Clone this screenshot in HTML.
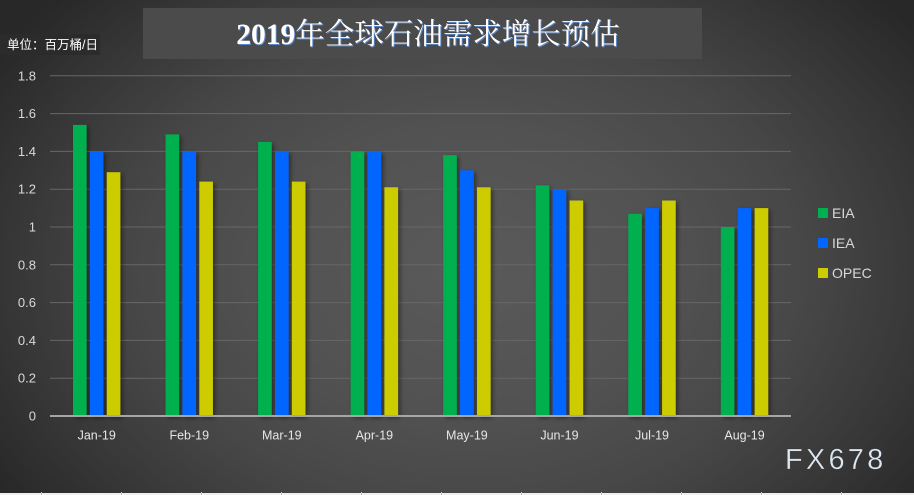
<!DOCTYPE html>
<html>
<head>
<meta charset="utf-8">
<style>
html,body{margin:0;padding:0;}
body{width:914px;height:495px;overflow:hidden;position:relative;
background:radial-gradient(ellipse 560px 400px at 470px 270px,#5a5a5a 0%,#525252 35%,#474747 60%,#383838 80%,#282828 100%);
font-family:"Liberation Sans","Noto Sans CJK SC",sans-serif;}
svg{position:absolute;left:0;top:0;}
</style>
</head>
<body>
<svg width="914" height="495" viewBox="0 0 914 495" xmlns="http://www.w3.org/2000/svg">
<defs>
<filter id="sh" x="-50%" y="-10%" width="200%" height="130%">
<feDropShadow dx="2" dy="2" stdDeviation="2.5" flood-color="#000" flood-opacity="0.45"/>
</filter>
<filter id="ts" x="-5%" y="-10%" width="110%" height="130%">
<feDropShadow dx="1" dy="1" stdDeviation="0" flood-color="#5b8fd8" flood-opacity="0.9"/>
</filter>
</defs>
<!-- title box -->
<rect x="143" y="8" width="559" height="51" fill="#4b4b4b"/>
<text x="428" y="44" text-anchor="middle" font-family="Liberation Serif,'Noto Serif CJK SC',serif" font-size="29.5" fill="#ffffff" filter="url(#ts)"><tspan font-weight="bold">2019</tspan><tspan font-weight="normal">年全球石油需求增长预估</tspan></text>
<!-- unit label -->
<rect x="0" y="34" width="100" height="21" fill="#2b2b2b"/>
<text x="7" y="49" font-family="'Liberation Sans','Noto Sans CJK SC',sans-serif" font-size="12.5" fill="#ffffff">单位：百万桶/日</text>
<!-- gridlines -->
<g stroke="#676767" stroke-width="1">
<line x1="50" x2="791" y1="378.2" y2="378.2"/>
<line x1="50" x2="791" y1="340.4" y2="340.4"/>
<line x1="50" x2="791" y1="302.6" y2="302.6"/>
<line x1="50" x2="791" y1="264.8" y2="264.8"/>
<line x1="50" x2="791" y1="227" y2="227"/>
<line x1="50" x2="791" y1="189.2" y2="189.2"/>
<line x1="50" x2="791" y1="151.4" y2="151.4"/>
<line x1="50" x2="791" y1="113.6" y2="113.6"/>
<line x1="50" x2="791" y1="75.8" y2="75.8"/>
</g>
<!-- y labels -->
<g font-family="'Liberation Sans',sans-serif" font-size="13" fill="#d9d9d9" text-anchor="end">
<text x="36" y="420.5">0</text>
<text x="36" y="382.7">0.2</text>
<text x="36" y="344.9">0.4</text>
<text x="36" y="307.1">0.6</text>
<text x="36" y="269.3">0.8</text>
<text x="36" y="231.5">1</text>
<text x="36" y="193.7">1.2</text>
<text x="36" y="155.9">1.4</text>
<text x="36" y="118.1">1.6</text>
<text x="36" y="80.3">1.8</text>
</g>
<!-- bars -->
<g filter="url(#sh)">
<rect x="73.0" y="124.9" width="13.6" height="291.1" fill="#00b050"/>
<rect x="89.9" y="151.4" width="13.6" height="264.6" fill="#0066ff"/>
<rect x="106.8" y="172.2" width="13.6" height="243.8" fill="#cccc00"/>
<rect x="165.55" y="134.4" width="13.6" height="281.6" fill="#00b050"/>
<rect x="182.45" y="151.4" width="13.6" height="264.6" fill="#0066ff"/>
<rect x="199.35" y="181.6" width="13.6" height="234.4" fill="#cccc00"/>
<rect x="258.1" y="141.9" width="13.6" height="274.1" fill="#00b050"/>
<rect x="275.0" y="151.4" width="13.6" height="264.6" fill="#0066ff"/>
<rect x="291.9" y="181.6" width="13.6" height="234.4" fill="#cccc00"/>
<rect x="350.65" y="151.4" width="13.6" height="264.6" fill="#00b050"/>
<rect x="367.55" y="151.4" width="13.6" height="264.6" fill="#0066ff"/>
<rect x="384.45" y="187.3" width="13.6" height="228.7" fill="#cccc00"/>
<rect x="443.2" y="155.2" width="13.6" height="260.8" fill="#00b050"/>
<rect x="460.1" y="170.3" width="13.6" height="245.7" fill="#0066ff"/>
<rect x="477.0" y="187.3" width="13.6" height="228.7" fill="#cccc00"/>
<rect x="535.75" y="185.4" width="13.6" height="230.6" fill="#00b050"/>
<rect x="552.65" y="189.2" width="13.6" height="226.8" fill="#0066ff"/>
<rect x="569.55" y="200.5" width="13.6" height="215.5" fill="#cccc00"/>
<rect x="628.3" y="213.8" width="13.6" height="202.2" fill="#00b050"/>
<rect x="645.2" y="208.1" width="13.6" height="207.9" fill="#0066ff"/>
<rect x="662.1" y="200.5" width="13.6" height="215.5" fill="#cccc00"/>
<rect x="720.85" y="227" width="13.6" height="189" fill="#00b050"/>
<rect x="737.75" y="208.1" width="13.6" height="207.9" fill="#0066ff"/>
<rect x="754.65" y="208.1" width="13.6" height="207.9" fill="#cccc00"/>
</g>
<!-- axis -->
<line x1="50" x2="791" y1="416" y2="416" stroke="#a6a6a6" stroke-width="2"/>
<!-- x labels -->
<g font-family="'Liberation Sans',sans-serif" font-size="12.5" fill="#e6e6e6" text-anchor="middle">
<text x="96.7" y="439.5">Jan-19</text>
<text x="189.25" y="439.5">Feb-19</text>
<text x="281.8" y="439.5">Mar-19</text>
<text x="374.35" y="439.5">Apr-19</text>
<text x="466.9" y="439.5">May-19</text>
<text x="559.45" y="439.5">Jun-19</text>
<text x="652.0" y="439.5">Jul-19</text>
<text x="744.55" y="439.5">Aug-19</text>
</g>
<!-- legend -->
<rect x="818" y="208" width="10" height="10" fill="#00b050"/>
<rect x="818" y="238" width="10" height="10" fill="#0066ff"/>
<rect x="818" y="268" width="10" height="10" fill="#cccc00"/>
<g font-family="'Liberation Sans',sans-serif" font-size="14" fill="#d9d9d9">
<text x="832" y="218">EIA</text>
<text x="832" y="248">IEA</text>
<text x="832" y="278">OPEC</text>
</g>
<!-- watermark -->
<text x="785" y="469" font-family="'Liberation Sans',sans-serif" font-size="29" letter-spacing="3.2" fill="#dde7f2" stroke="#2a2a2a" stroke-width="0.3">FX678</text>
<!-- bottom sheet strip -->
<rect x="0" y="493" width="914" height="2" fill="#efefef"/>
<g stroke="#c4c4c4" stroke-width="1">
<line x1="41.5" x2="41.5" y1="492" y2="495"/>
<line x1="121.5" x2="121.5" y1="492" y2="495"/>
<line x1="201.5" x2="201.5" y1="492" y2="495"/>
<line x1="281.5" x2="281.5" y1="492" y2="495"/>
<line x1="361.5" x2="361.5" y1="492" y2="495"/>
<line x1="441.5" x2="441.5" y1="492" y2="495"/>
<line x1="521.5" x2="521.5" y1="492" y2="495"/>
<line x1="601.5" x2="601.5" y1="492" y2="495"/>
<line x1="681.5" x2="681.5" y1="492" y2="495"/>
<line x1="761.5" x2="761.5" y1="492" y2="495"/>
<line x1="841.5" x2="841.5" y1="492" y2="495"/>
</g>
</svg>
</body>
</html>
